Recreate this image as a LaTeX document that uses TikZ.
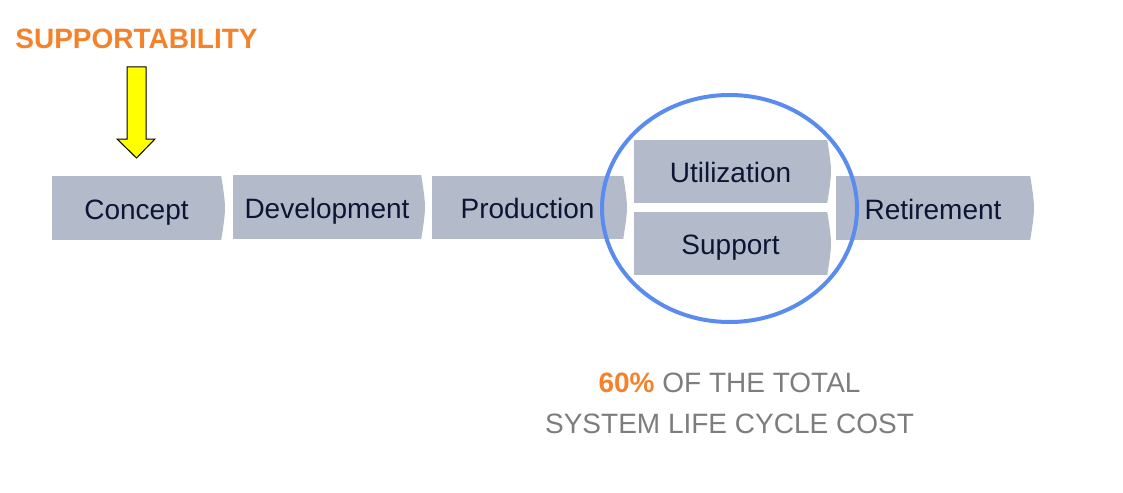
\documentclass[tikz,border=0pt]{standalone}
\usepackage{fontspec}
\setmainfont{Liberation Sans}
\usetikzlibrary{shapes.geometric}
\definecolor{boxgray}{RGB}{179,187,203}
\definecolor{navy}{RGB}{12,22,52}
\definecolor{orng}{RGB}{245,130,42}
\definecolor{ringblue}{RGB}{90,140,240}
\definecolor{txtgray}{RGB}{125,125,125}
\definecolor{arrowyellow}{RGB}{255,255,0}
\tikzset{
  stagebox/.style={fill=boxgray, inner sep=0pt, text=navy,
    font=\fontsize{28}{32}\selectfont, text height=22pt, text depth=0pt},
}
\begin{document}
\begin{tikzpicture}[x=1pt,y=-1pt]
\useasboundingbox (0,0) rectangle (1123,492);
% stages
\node[stagebox, minimum width=169pt, minimum height=64pt] (concept) at (136.5,208) {Concept};
\node[stagebox, minimum width=188pt, minimum height=64pt] (dev) at (327,207) {Development};
\node[stagebox, minimum width=191pt, minimum height=63pt] (prod) at (527.5,207.5) {Production};
\node[stagebox, minimum width=193pt, minimum height=63pt] (util) at (730.5,171.5) {Utilization};
\node[stagebox, minimum width=193pt, minimum height=63pt] (supp) at (730.5,243.5) {Support};
\node[stagebox, minimum width=194pt, minimum height=64pt] (ret) at (933,208) {Retirement};
\foreach \n in {concept,dev,prod,util,supp,ret}
  \fill[boxgray] (\n.north east) .. controls ([xshift=5pt]\n.east) .. (\n.south east) -- cycle;
% ring
\node[draw=ringblue, line width=4pt, ellipse, minimum width=255pt, minimum height=227pt, inner sep=0pt] (ring) at (729.5,208.5) {};
% title
\node[text=orng, font=\fontsize{28}{32}\selectfont\bfseries] (supportability) at (136.5,39) {SUPPORTABILITY};
% yellow arrow
\draw[fill=arrowyellow, draw=black, line width=1pt, line join=miter]
  (127,67) -- (146,67) -- (146,139) -- (155,139) -- (136.5,158) -- (117,139) -- (127,139) -- cycle;
% bottom text
\node[font=\fontsize{28}{41}\selectfont, text=txtgray, align=center] (cost) at (729.5,403.5)
  {{\bfseries\color{orng}60\%} OF THE TOTAL\\SYSTEM LIFE CYCLE COST};
\end{tikzpicture}
\end{document}
